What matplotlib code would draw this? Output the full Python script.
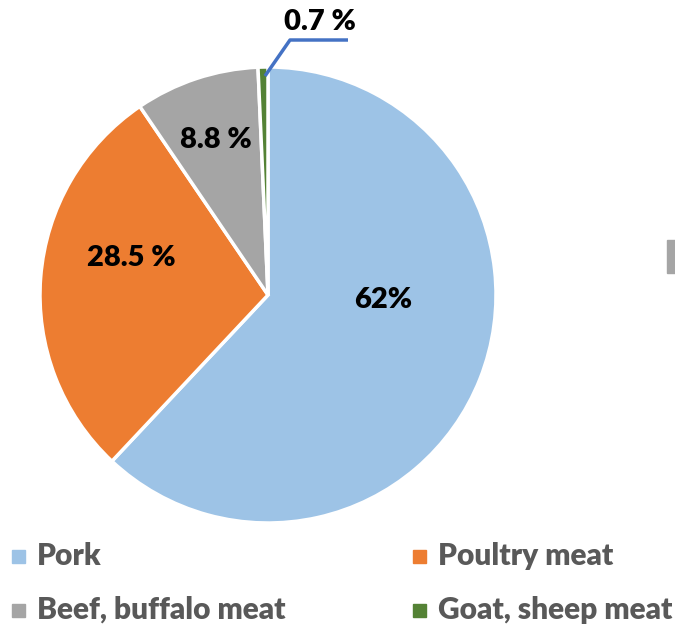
import matplotlib
matplotlib.use("Agg")
import matplotlib.pyplot as plt
from matplotlib.patches import Rectangle

categories = ["Pork", "Poultry meat", "Beef, buffalo meat", "Goat, sheep meat"]
shares = [62.0, 28.5, 8.8, 0.7]
labels = ["62%", "28.5 %", "8.8 %", "0.7 %"]
colors = ["#9DC3E6", "#ED7D31", "#A5A5A5", "#548235"]

W, H = 675, 627
plt.rcParams["font.family"] = ["Lato", "DejaVu Sans"]

fig = plt.figure(figsize=(W / 100, H / 100), dpi=100)
ax = fig.add_axes([0, 0, 1, 1])

cx, cy, r = 268, H - 295, 228
wedges, _ = ax.pie(shares, colors=colors, startangle=90, counterclock=False,
                   center=(cx, cy), radius=r, frame=True,
                   wedgeprops=dict(edgecolor="white", linewidth=2.5))
ax.set_xlim(0, W)
ax.set_ylim(0, H)
ax.axis("off")

# data labels
label_pos = [(383, 300), (131, 258), (216, 140), (320, 22)]
for txt, (x, y) in zip(labels, label_pos):
    ax.text(x, H - y, txt, ha="center", va="center", fontsize=21,
            fontweight="heavy", color="black")

# leader line for the tiny slice
ax.plot([265, 290, 348], [H - 76, H - 40, H - 40], color="#4472C4", lw=2.5,
        solid_capstyle="butt")

# legend
leg_pos = [(18, 556), (419, 556), (18, 610), (419, 610)]
for name, col, (x, y) in zip(categories, colors, leg_pos):
    ax.add_patch(Rectangle((x - 6.5, H - y - 6.5), 13, 13, color=col))
    ax.text(x + 19, H - y, name, ha="left", va="center", fontsize=21.5,
            fontweight="heavy", color="#595959")

# clipped element at right edge
ax.add_patch(Rectangle((667, H - 273), 10, 33, color="#A5A5A5"))

fig.savefig("out.png", dpi=100)
